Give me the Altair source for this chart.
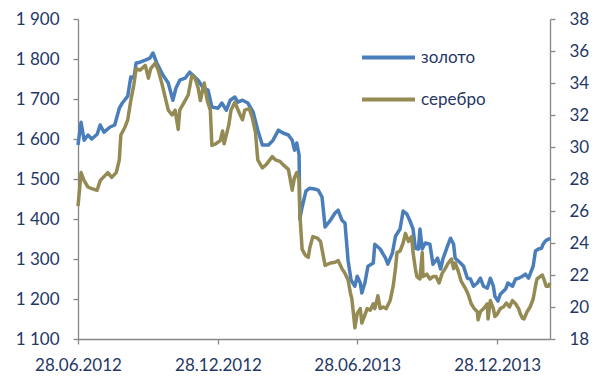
import altair as alt
import pandas as pd

gold_dates = [
    "2012-06-28", "2012-07-02", "2012-07-06", "2012-07-11", "2012-07-16", "2012-07-23", "2012-07-27",
    "2012-08-01", "2012-08-09", "2012-08-15", "2012-08-21", "2012-08-25", "2012-09-01", "2012-09-05",
    "2012-09-09", "2012-09-12", "2012-09-17", "2012-09-24", "2012-09-30", "2012-10-04", "2012-10-09",
    "2012-10-17", "2012-10-24", "2012-10-30", "2012-11-03", "2012-11-08", "2012-11-15", "2012-11-21",
    "2012-11-25", "2012-12-02", "2012-12-09", "2012-12-15", "2012-12-20", "2012-12-28", "2013-01-02",
    "2013-01-08", "2013-01-13", "2013-01-19", "2013-01-23", "2013-01-29", "2013-02-05", "2013-02-12",
    "2013-02-18", "2013-02-24", "2013-03-04", "2013-03-10", "2013-03-17", "2013-03-23", "2013-03-30",
    "2013-04-04", "2013-04-07", "2013-04-10", "2013-04-13", "2013-04-14", "2013-04-17", "2013-04-22",
    "2013-04-27", "2013-05-03", "2013-05-08", "2013-05-13", "2013-05-17", "2013-05-24", "2013-05-30",
    "2013-06-03", "2013-06-08", "2013-06-12", "2013-06-16", "2013-06-20", "2013-06-25", "2013-06-28",
    "2013-07-02", "2013-07-04", "2013-07-08", "2013-07-12", "2013-07-19", "2013-07-21", "2013-07-28",
    "2013-08-04", "2013-08-07", "2013-08-13", "2013-08-17", "2013-08-23", "2013-08-27", "2013-09-01",
    "2013-09-05", "2013-09-09", "2013-09-12", "2013-09-16", "2013-09-18", "2013-09-21", "2013-09-25",
    "2013-10-01", "2013-10-05", "2013-10-11", "2013-10-15", "2013-10-18", "2013-10-24", "2013-10-28",
    "2013-11-01", "2013-11-03", "2013-11-10", "2013-11-14", "2013-11-19", "2013-11-23", "2013-11-27",
    "2013-12-02", "2013-12-06", "2013-12-10", "2013-12-15", "2013-12-19", "2013-12-23", "2013-12-25",
    "2013-12-29", "2014-01-01", "2014-01-08", "2014-01-11", "2014-01-17", "2014-01-21", "2014-01-25",
    "2014-01-30", "2014-02-03", "2014-02-07", "2014-02-09", "2014-02-13", "2014-02-16", "2014-02-20",
    "2014-02-24", "2014-02-26", "2014-03-01", "2014-03-05", "2014-03-07",
]
gold_values = [
    1585, 1642, 1597, 1610, 1600, 1612, 1635,
    1617, 1630, 1635, 1677, 1690, 1707, 1755,
    1752, 1790, 1792, 1797, 1802, 1815, 1790,
    1760, 1740, 1697, 1727, 1747, 1752, 1767,
    1760, 1747, 1727, 1722, 1680, 1677, 1690,
    1672, 1697, 1705, 1692, 1697, 1690, 1667,
    1622, 1585, 1585, 1597, 1622, 1615, 1610,
    1597, 1572, 1590, 1560, 1400, 1430, 1470,
    1477, 1475, 1472, 1455, 1380, 1397, 1415,
    1422, 1397, 1390, 1297, 1247, 1232, 1257,
    1240, 1215, 1240, 1282, 1290, 1337, 1325,
    1302, 1287, 1315, 1357, 1375, 1420, 1412,
    1395, 1375, 1327, 1325, 1375, 1325, 1340,
    1337, 1287, 1302, 1275, 1300, 1332, 1352,
    1337, 1302, 1290, 1282, 1252, 1250, 1232,
    1240, 1252, 1232, 1227, 1252, 1232, 1207,
    1195, 1212, 1225, 1240, 1232, 1250, 1252,
    1257, 1262, 1252, 1262, 1282, 1320, 1325,
    1327, 1337, 1345, 1350, 1350,
]

silver_dates = [
    "2012-06-28", "2012-07-02", "2012-07-06", "2012-07-11", "2012-07-16", "2012-07-23", "2012-07-27",
    "2012-07-31", "2012-08-06", "2012-08-11", "2012-08-17", "2012-08-21", "2012-08-23", "2012-08-28",
    "2012-09-01", "2012-09-05", "2012-09-09", "2012-09-12", "2012-09-17", "2012-09-24", "2012-09-28",
    "2012-10-01", "2012-10-07", "2012-10-11", "2012-10-16", "2012-10-20", "2012-10-24", "2012-10-29",
    "2012-11-02", "2012-11-06", "2012-11-08", "2012-11-15", "2012-11-19", "2012-11-24", "2012-11-28",
    "2012-12-02", "2012-12-05", "2012-12-10", "2012-12-14", "2012-12-18", "2012-12-20", "2012-12-25",
    "2012-12-31", "2013-01-03", "2013-01-05", "2013-01-11", "2013-01-14", "2013-01-19", "2013-01-26",
    "2013-01-29", "2013-02-01", "2013-02-07", "2013-02-11", "2013-02-15", "2013-02-18", "2013-02-24",
    "2013-03-01", "2013-03-09", "2013-03-13", "2013-03-19", "2013-03-23", "2013-03-30", "2013-04-01",
    "2013-04-04", "2013-04-07", "2013-04-10", "2013-04-13", "2013-04-14", "2013-04-17", "2013-04-21",
    "2013-04-25", "2013-04-27", "2013-05-01", "2013-05-07", "2013-05-11", "2013-05-13", "2013-05-17",
    "2013-05-24", "2013-05-30", "2013-06-03", "2013-06-08", "2013-06-12", "2013-06-16", "2013-06-19",
    "2013-06-21", "2013-06-25", "2013-06-28", "2013-07-02", "2013-07-04", "2013-07-08", "2013-07-11",
    "2013-07-15", "2013-07-19", "2013-07-21", "2013-07-25", "2013-07-28", "2013-08-01", "2013-08-05",
    "2013-08-10", "2013-08-14", "2013-08-17", "2013-08-19", "2013-08-23", "2013-08-27", "2013-08-30",
    "2013-09-03", "2013-09-07", "2013-09-09", "2013-09-12", "2013-09-14", "2013-09-18", "2013-09-21",
    "2013-09-22", "2013-09-27", "2013-10-01", "2013-10-05", "2013-10-09", "2013-10-13", "2013-10-17",
    "2013-10-21", "2013-10-25", "2013-10-29", "2013-11-01", "2013-11-03", "2013-11-07", "2013-11-11",
    "2013-11-16", "2013-11-20", "2013-11-24", "2013-11-28", "2013-12-02", "2013-12-03", "2013-12-06",
    "2013-12-10", "2013-12-12", "2013-12-15", "2013-12-16", "2013-12-19", "2013-12-23", "2013-12-25",
    "2013-12-28", "2014-01-01", "2014-01-05", "2014-01-09", "2014-01-13", "2014-01-17", "2014-01-21",
    "2014-01-25", "2014-01-27", "2014-01-30", "2014-02-01", "2014-02-05", "2014-02-09", "2014-02-13",
    "2014-02-16", "2014-02-18", "2014-02-22", "2014-02-25", "2014-02-28", "2014-03-02", "2014-03-05",
    "2014-03-07",
]
silver_values = [
    26.3, 28.4, 27.9, 27.5, 27.4, 27.3, 27.9,
    28.1, 28.4, 28.1, 28.4, 29.2, 30.75, 31.2,
    31.7, 32.9, 33.9, 34.9, 34.8, 35.1, 34.3,
    34.9, 35.25, 34.8, 33.9, 33.1, 32.3, 32.0,
    32.3, 31.1, 32.3, 32.9, 33.25, 34.5, 34.3,
    33.7, 32.9, 34.0, 32.9, 32.3, 30.1, 30.2,
    30.4, 31.0, 30.2, 31.35, 32.3, 32.8, 32.0,
    31.7, 32.3, 32.4, 31.8, 30.9, 29.2, 28.7,
    28.9, 29.4, 29.2, 29.1, 28.9, 28.6, 28.1,
    27.3, 28.1, 28.4, 27.9, 25.8, 23.6, 23.25,
    23.1, 23.7, 24.4, 24.3, 24.1, 23.6, 22.6,
    22.75, 22.8, 22.9, 22.4, 22.1, 21.7, 20.9,
    20.5, 18.7, 19.6, 19.9, 19.0, 19.5, 19.9,
    19.8, 20.2, 19.9, 20.7, 19.9, 20.0, 19.9,
    20.4, 21.3, 22.4, 23.4, 23.5, 24.0, 24.6,
    24.1, 24.4, 23.4, 22.4, 21.9, 21.75, 23.4,
    21.9, 22.05, 21.75, 21.9, 21.9, 21.5, 22.1,
    22.4, 22.75, 23.0, 22.4, 22.75, 22.25, 21.6,
    21.2, 20.8, 20.2, 19.9, 19.7, 19.2, 19.7,
    19.9, 20.0, 20.2, 19.25, 20.4, 19.9, 19.4,
    19.55, 19.9, 20.0, 20.25, 20.0, 20.4, 20.2,
    19.9, 19.6, 19.3, 19.25, 19.7, 20.0, 20.5,
    21.3, 21.75, 21.9, 22.0, 21.6, 21.3, 21.3,
    21.5,
]

series_names = ["золото", "серебро"]
series_colors = ["#4A7EBB", "#948A54"]
x_tick_dates = [(2012, 6, 28), (2012, 12, 28), (2013, 6, 28), (2013, 12, 28)]

gold_df = pd.DataFrame({"date": gold_dates, "value": gold_values, "series": series_names[0]})
silver_df = pd.DataFrame({"date": silver_dates, "value": silver_values, "series": series_names[1]})

FONT = "Lato"
TXT = "#1F3864"
AX = "#868686"

x_enc = alt.X(
    "date:T",
    scale=alt.Scale(type="utc", domain=[alt.DateTime(year=2012, month=6, date=28, utc=True),
                                        alt.DateTime(year=2014, month=3, date=7, utc=True)]),
    axis=alt.Axis(
        values=[alt.DateTime(year=y, month=m, date=d, utc=True) for (y, m, d) in x_tick_dates],
        labelExpr="utcFormat(datum.value, '%d.%m.%Y')",
        labelFlush=False, labelOverlap=False,
        title=None, grid=False, tickSize=5, labelPadding=13,
    ),
)

color_enc = alt.Color(
    "series:N",
    scale=alt.Scale(domain=series_names, range=series_colors),
    legend=alt.Legend(
        title=None, orient="none", legendX=282, legendY=10,
        symbolType="stroke", symbolSize=2809, symbolStrokeWidth=4,
        labelFont=FONT, labelFontSize=17, labelColor=TXT, labelOffset=4,
        rowPadding=5,
    ),
)

gold = alt.Chart(gold_df).mark_line(strokeWidth=3.5, strokeJoin="round").encode(
    x=x_enc,
    y=alt.Y("value:Q", scale=alt.Scale(domain=[1100, 1900], nice=False, zero=False),
            axis=alt.Axis(values=list(range(1100, 1901, 100)), orient="left",
                          labelExpr="replace(format(datum.value, ','), ',', ' ')",
                          title=None, grid=False, tickSize=5, labelPadding=14)),
    color=color_enc,
)

silver = alt.Chart(silver_df).mark_line(strokeWidth=3.5, strokeJoin="round").encode(
    x=x_enc,
    y=alt.Y("value:Q", scale=alt.Scale(domain=[18, 38], nice=False, zero=False),
            axis=alt.Axis(values=list(range(18, 39, 2)), orient="right",
                          title=None, grid=False, tickSize=5, labelPadding=14)),
    color=color_enc,
)

chart = alt.layer(gold, silver).resolve_scale(y="independent").properties(
    width=472, height=320,
    autosize=alt.AutoSizeParams(type="none"),
    padding={"left": 78, "top": 19, "right": 45, "bottom": 37},
).configure(background="white").configure_view(stroke=None).configure_axis(
    labelFont=FONT, labelFontSize=17, labelColor=TXT,
    domainColor=AX, tickColor=AX, domainWidth=1.3, tickWidth=1.3,
)

chart.save("out.html", embed_options={"renderer": "svg", "actions": False})
